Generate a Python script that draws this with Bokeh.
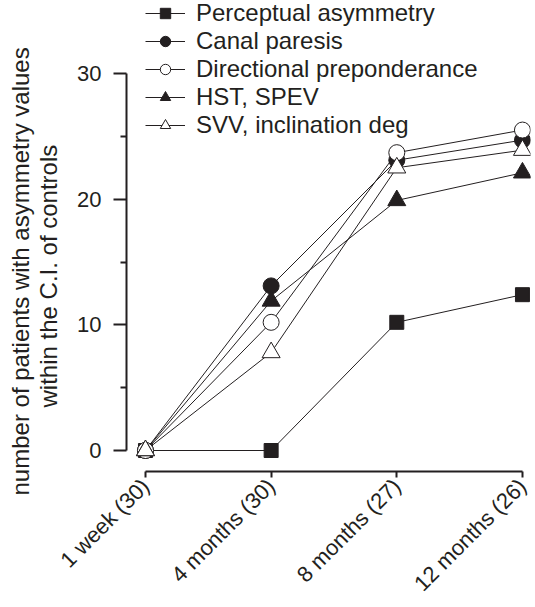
import math
from bokeh.plotting import figure
from bokeh.models import (Range1d, FixedTicker, Legend, LegendItem, Title)
from bokeh.embed import file_html
from bokeh.resources import INLINE

# ---- data ----
categories = ["1 week (30)", "4 months (30)", "8 months (27)", "12 months (26)"]
perceptual = [0, 0, 10.2, 12.4]
canal = [0, 13.1, 23.1, 24.7]
directional = [0, 10.2, 23.7, 25.5]
hst = [0, 11.9, 19.9, 22.1]
svv = [0, 7.8, 22.5, 23.9]
names = ["Perceptual asymmetry", "Canal paresis", "Directional preponderance",
         "HST, SPEV", "SVV, inclination deg"]
y_ticks = [0, 10, 20, 30]
y_minor = [5, 15, 25]
ylabel_lines = ["number of patients with asymmetry values",
                "within the C.I. of controls"]

xs = list(range(len(categories)))
FONT = "Liberation Sans"
INK = "#231f20"

p = figure(width=535, height=607, output_backend="svg", toolbar_location=None,
           x_range=Range1d(-0.151, 3.064), y_range=Range1d(-1.671, 35.81),
           min_border_left=126, min_border_right=5, min_border_top=0,
           min_border_bottom=136)
p.outline_line_color = None
p.xgrid.visible = False
p.ygrid.visible = False
p.background_fill_color = "white"

series = [perceptual, canal, directional, hst, svv]
styles = [
    dict(marker="square", size=14, fill_color=INK),
    dict(marker="circle", size=16, fill_color=INK),
    dict(marker="circle", size=16, fill_color="white"),
    dict(marker="triangle", size=18, fill_color=INK),
    dict(marker="triangle", size=18, fill_color="white"),
]

line_rs = []
for vals in series:
    line_rs.append(p.line(xs, vals, line_color=INK, line_width=1))
mark_rs = []
for vals, st in zip(series, styles):
    mark_rs.append(p.scatter(xs, vals, marker=st["marker"], size=st["size"],
                             fill_color=st["fill_color"], line_color=INK,
                             line_width=1))

items = [LegendItem(label=n, renderers=[lr, mr])
         for n, lr, mr in zip(names, line_rs, mark_rs)]
legend = Legend(items=items, location=(19, 332), orientation="vertical",
                padding=0, margin=0, spacing=0, label_height=26,
                glyph_height=26, glyph_width=40, label_standoff=11,
                border_line_color=None, background_fill_alpha=0,
                label_text_font=FONT, label_text_font_size="24px",
                label_text_color=INK)
p.add_layout(legend, "center")

# axes
xa = p.xaxis[0]
xa.ticker = FixedTicker(ticks=xs)
xa.major_label_overrides = {i: c for i, c in enumerate(categories)}
xa.bounds = (0, 3)
xa.major_label_orientation = math.pi / 4
xa.major_label_text_font = FONT
xa.major_label_text_font_size = "22px"
xa.major_label_text_color = INK
xa.major_tick_in = 0
xa.major_tick_out = 6
xa.minor_tick_out = 0
xa.minor_tick_in = 0
xa.axis_line_width = 2
xa.major_tick_line_width = 2
xa.axis_line_color = INK
xa.major_tick_line_color = INK
xa.major_label_standoff = 5

ya = p.yaxis[0]
ya.ticker = FixedTicker(ticks=y_ticks, minor_ticks=y_minor)
ya.bounds = (0, 30)
ya.major_label_text_font = FONT
ya.major_label_text_font_size = "22px"
ya.major_label_text_color = INK
ya.major_tick_in = 0
ya.major_tick_out = 13
ya.minor_tick_in = 0
ya.minor_tick_out = 6
ya.axis_line_width = 2
ya.major_tick_line_width = 2
ya.minor_tick_line_width = 2
ya.axis_line_color = INK
ya.major_tick_line_color = INK
ya.minor_tick_line_color = INK
ya.major_label_standoff = 12

# y-axis label as two stacked titles in the left panel (inner line first)
offsets = [-24, 64]
standoffs = [-28, 26]
for line, off, so in reversed(list(zip(ylabel_lines, offsets, standoffs))):
    t = Title(text=line, align="left", offset=off, standoff=so,
              text_font=FONT, text_font_size="24px", text_font_style="normal",
              text_color=INK)
    p.add_layout(t, "left")

open("out.html", "w").write(file_html(p, INLINE))
